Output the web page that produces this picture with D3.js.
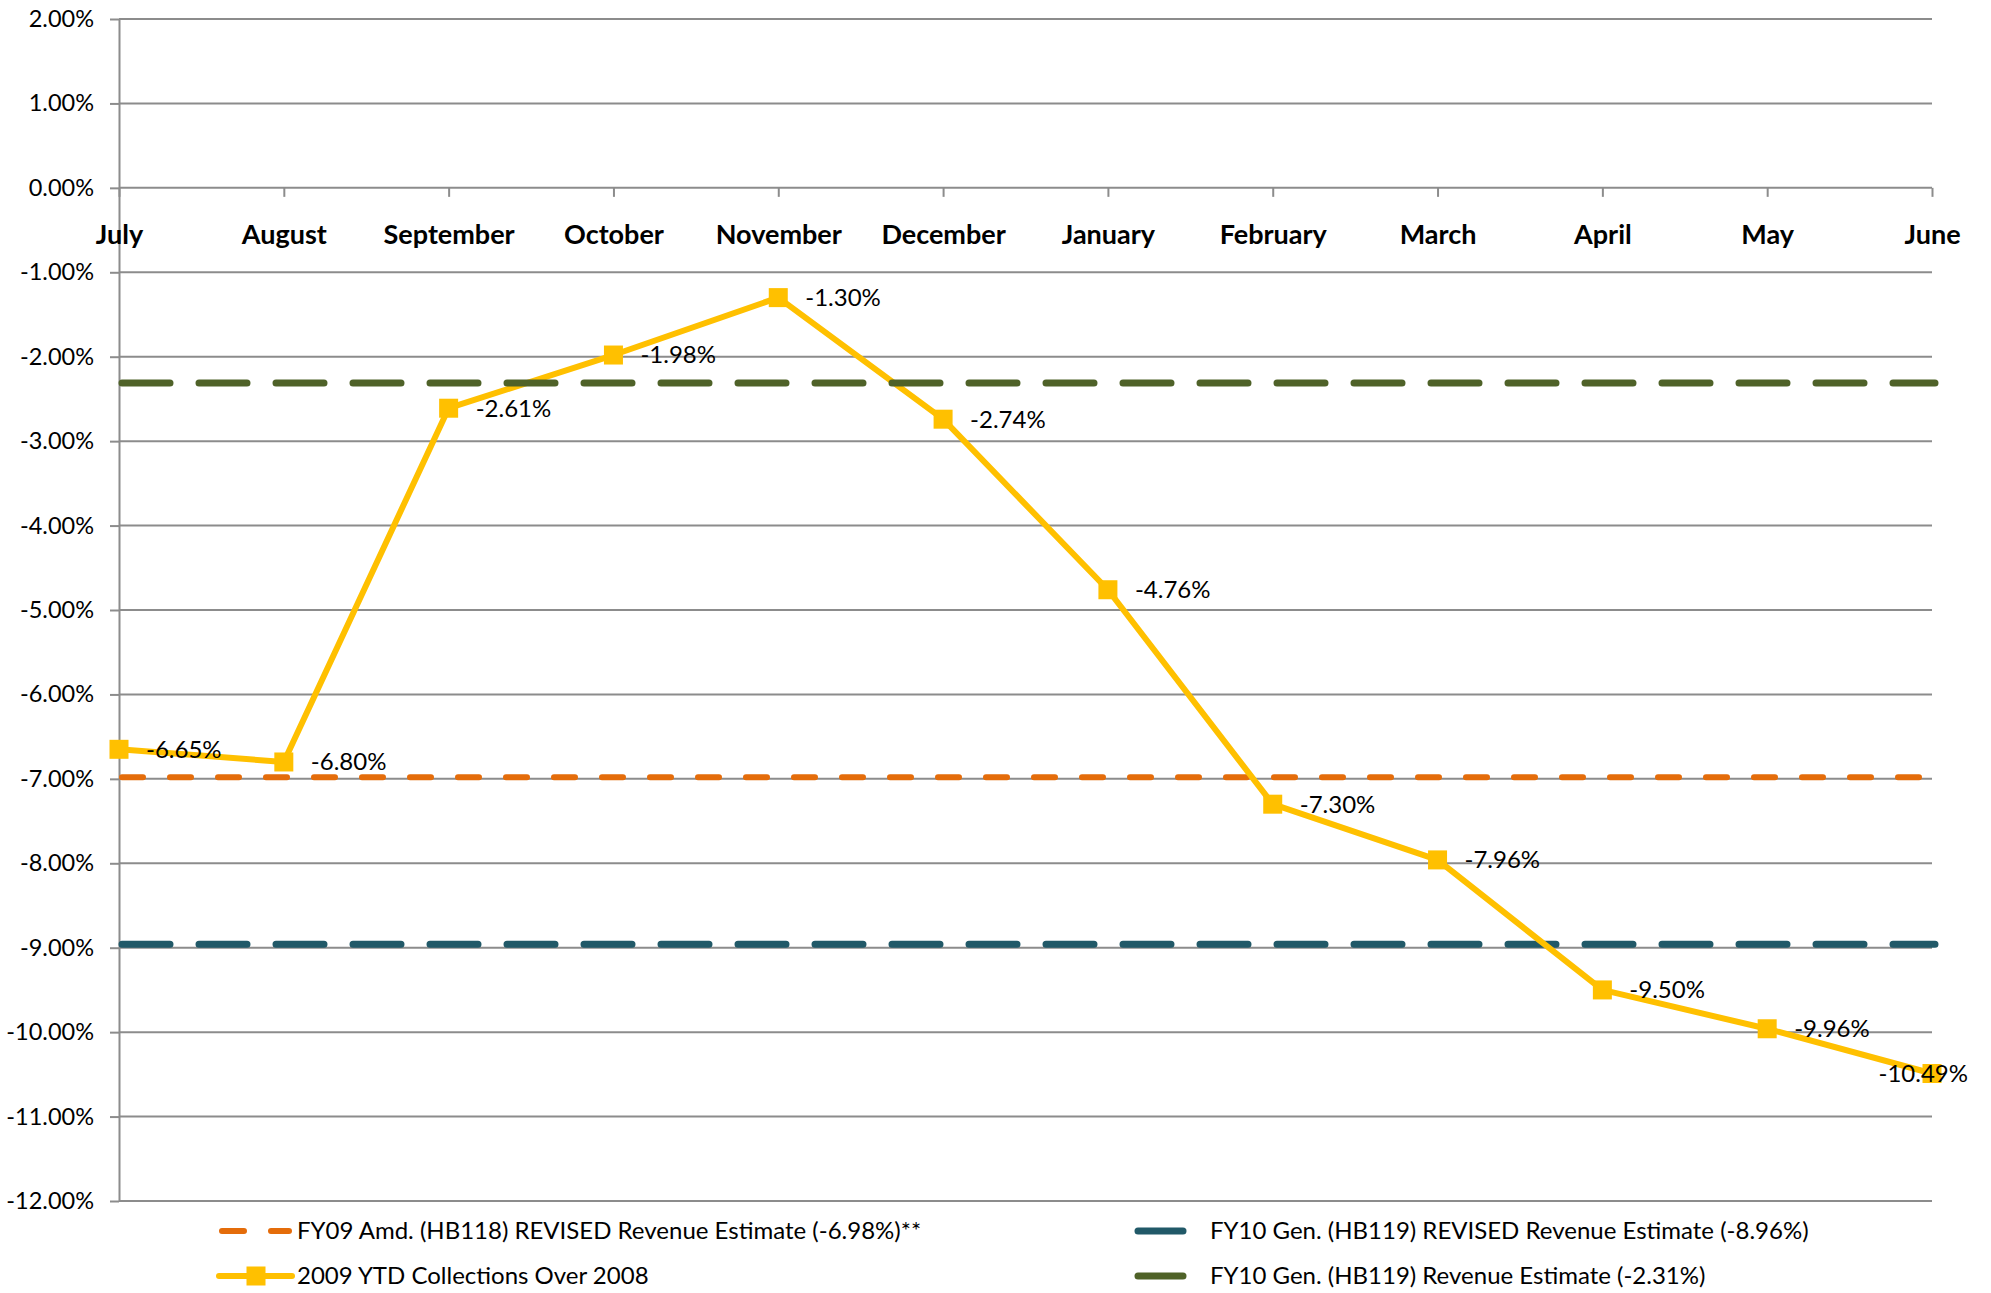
<!DOCTYPE html>
<html>
<head>
<meta charset="utf-8">
<script src="https://cdn.jsdelivr.net/npm/d3@7"></script>
<style>
  body { margin: 0; background: #fff; }
  text { font-family: Lato, "Open Sans", sans-serif; fill: #000; }
</style>
</head>
<body>
<div id="chart"></div>
<script>
// chart data
var months = ["July", "August", "September", "October", "November", "December",
  "January", "February", "March", "April", "May", "June"];
var ytdValues = [-6.65, -6.80, -2.61, -1.98, -1.30, -2.74, -4.76, -7.30, -7.96, -9.50, -9.96, -10.49];
var yTickValues = [2, 1, 0, -1, -2, -3, -4, -5, -6, -7, -8, -9, -10, -11, -12];

// flat estimate lines (series order as in the workbook)
var estimateNames = [
  "FY09 Amd. (HB118) REVISED Revenue Estimate (-6.98%)**",
  "FY10 Gen. (HB119) REVISED Revenue Estimate (-8.96%)",
  "FY10 Gen. (HB119) Revenue Estimate (-2.31%)"
];
var estimateValues = [-6.98, -8.96, -2.31];
var ytdName = "2009 YTD Collections Over 2008";

var svgWidth = 1991;
var svgHeight = 1293;

var margin = { top: 19, right: 59, bottom: 92, left: 119 };
var width = svgWidth - margin.left - margin.right;
var height = svgHeight - margin.top - margin.bottom;

var svg = d3.select("#chart").append("svg")
  .attr("width", svgWidth)
  .attr("height", svgHeight);

var chartGroup = svg.append("g")
  .attr("transform", `translate(${margin.left}, ${margin.top})`);

var x = d3.scalePoint().domain(months).range([0, width]);
var y = d3.scaleLinear().domain([-12, 2]).range([height, 0]);

var gridColor = "#8c8c8c";
var pct = d => d.toFixed(2) + "%";

// gridlines
chartGroup.append("g")
  .selectAll("line")
  .data(yTickValues)
  .enter()
  .append("line")
  .attr("x1", 0)
  .attr("x2", width)
  .attr("y1", d => y(d))
  .attr("y2", d => y(d))
  .attr("stroke", gridColor)
  .attr("stroke-width", 2);

// y axis
var leftAxis = d3.axisLeft(y)
  .tickValues(yTickValues)
  .tickFormat(pct)
  .tickSize(9)
  .tickSizeOuter(0)
  .tickPadding(16);
var yAxisG = chartGroup.append("g").call(leftAxis);
yAxisG.select(".domain").attr("stroke", gridColor).attr("stroke-width", 2);
yAxisG.selectAll(".tick line").attr("stroke", gridColor).attr("stroke-width", 2);
yAxisG.selectAll(".tick text")
  .style("font-size", "23.5px")
  .attr("fill", "#000");

// x axis crossing at 0
var bottomAxis = d3.axisBottom(x).tickSize(9).tickSizeOuter(0);
var xAxisG = chartGroup.append("g")
  .attr("transform", `translate(0, ${y(0)})`)
  .call(bottomAxis);
xAxisG.select(".domain").remove();
xAxisG.selectAll(".tick line").attr("stroke", gridColor).attr("stroke-width", 2);
xAxisG.selectAll(".tick text")
  .attr("y", 56)
  .attr("dy", 0)
  .style("font-size", "27px")
  .style("font-weight", "bold")
  .attr("fill", "#000");

// styles for each estimate line
var estimateStyles = [
  { color: "#e46c0a", width: 6, dash: "21,27" },
  { color: "#215968", width: 7, dash: "48,29" },
  { color: "#4f6228", width: 7, dash: "48,29" }
];

function drawEstimate(i) {
  chartGroup.append("line")
    .attr("x1", 0)
    .attr("x2", width)
    .attr("y1", y(estimateValues[i]))
    .attr("y2", y(estimateValues[i]))
    .attr("stroke", estimateStyles[i].color)
    .attr("stroke-width", estimateStyles[i].width)
    .attr("stroke-dasharray", estimateStyles[i].dash)
    .attr("stroke-linecap", "round")
    .attr("transform", "translate(3,0)");
}

drawEstimate(0);
drawEstimate(1);

// YTD line and markers
var ytdColor = "#ffc000";
var line = d3.line()
  .x((d, i) => x(months[i]))
  .y(d => y(d));

chartGroup.append("path")
  .datum(ytdValues)
  .attr("d", line)
  .attr("fill", "none")
  .attr("stroke", ytdColor)
  .attr("stroke-width", 6)
  .attr("stroke-linejoin", "round");

chartGroup.selectAll(".marker")
  .data(ytdValues)
  .enter()
  .append("rect")
  .attr("class", "marker")
  .attr("x", (d, i) => x(months[i]) - 9.5)
  .attr("y", d => y(d) - 9.5)
  .attr("width", 19)
  .attr("height", 19)
  .attr("fill", ytdColor);

drawEstimate(2);

// data labels
chartGroup.selectAll(".dlabel")
  .data(ytdValues)
  .enter()
  .append("text")
  .attr("class", "dlabel")
  .attr("x", (d, i) => i === ytdValues.length - 1 ? x(months[i]) + 36 : x(months[i]) + 27)
  .attr("y", d => y(d))
  .attr("dy", "0.35em")
  .style("text-anchor", (d, i) => i === ytdValues.length - 1 ? "end" : "start")
  .style("font-size", "24px")
  .text(d => pct(d));

// legend
var legend = svg.append("g");
var legendItems = [
  { name: estimateNames[0], style: estimateStyles[0], x: 219, y: 1231 },
  { name: estimateNames[1], style: estimateStyles[1], x: 1134, y: 1231 },
  { name: ytdName, style: null, x: 219, y: 1276 },
  { name: estimateNames[2], style: estimateStyles[2], x: 1134, y: 1276 }
];

legendItems.forEach(function(item) {
  var g = legend.append("g").attr("transform", `translate(${item.x}, ${item.y})`);
  if (item.style === null) {
    g.append("line")
      .attr("x1", 0).attr("x2", 73)
      .attr("stroke", ytdColor).attr("stroke-width", 6)
      .attr("stroke-linecap", "round");
    g.append("rect")
      .attr("x", 37 - 9.5).attr("y", -9.5)
      .attr("width", 19).attr("height", 19)
      .attr("fill", ytdColor);
    g.append("text").attr("x", 78).attr("dy", "0.35em")
      .style("font-size", "24px").text(item.name);
  } else if (item.x < 500) {
    g.append("line")
      .attr("x1", 3).attr("x2", 70)
      .attr("stroke", item.style.color).attr("stroke-width", item.style.width)
      .attr("stroke-dasharray", "22,27")
      .attr("stroke-linecap", "round");
    g.append("text").attr("x", 78).attr("dy", "0.35em")
      .style("font-size", "24px").text(item.name);
  } else {
    g.append("line")
      .attr("x1", 4).attr("x2", 49)
      .attr("stroke", item.style.color).attr("stroke-width", item.style.width)
      .attr("stroke-linecap", "round");
    g.append("text").attr("x", 76).attr("dy", "0.35em")
      .style("font-size", "24px").text(item.name);
  }
});
</script>
</body>
</html>
